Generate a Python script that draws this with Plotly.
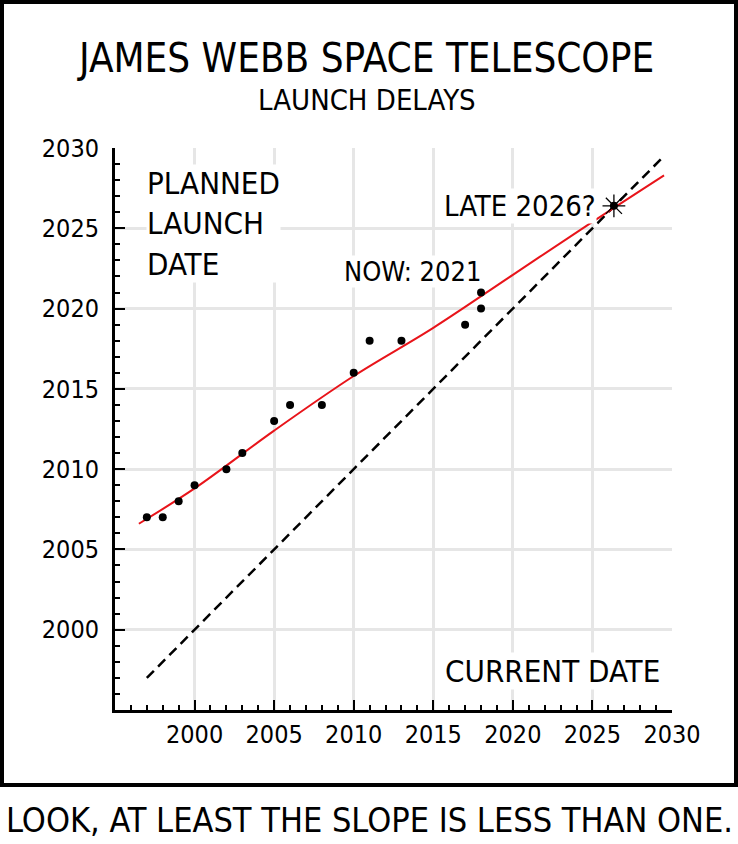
import plotly.graph_objects as go

# planned launch date at each point in time
current_year = [1997, 1998, 1999, 2000, 2002, 2003, 2005, 2006, 2008, 2010,
                2011, 2013, 2017, 2018, 2018]
planned_year = [2007, 2007, 2008, 2009, 2010, 2011, 2013, 2014, 2014, 2016,
                2018, 2018, 2019, 2020, 2021]

# hand-drawn trend line
trend_x = [1996.5, 2000, 2005, 2010, 2015, 2020, 2025, 2029.5]
trend_y = [2006.6, 2008.8, 2012.4, 2015.8, 2018.8, 2022.1, 2025.4, 2028.3]

# slope-one reference line
diag_x = [1997, 2029.5]
diag_y = [1997, 2029.5]

# where they meet
meet_x = [2026.35]
meet_y = [2026.4]

tick_vals = [2000, 2005, 2010, 2015, 2020, 2025, 2030]
tick_text = ["2000", "2005", "2010", "2015", "2020", "2025", "2030"]

FONT = "Humor Sans, xkcd Script, Liberation Sans Narrow, DejaVu Sans Condensed, sans-serif"
W, H = 738, 844
L, R, T, B = 115, 66, 148, 134


def px(x):
    return (x - L) / (W - L - R)


def py(y):
    return (H - B - y) / (H - T - B)


fig = go.Figure()

fig.add_trace(go.Scatter(x=diag_x, y=diag_y, mode="lines",
                         line=dict(color="black", width=2.5, dash="10px,6px")))
fig.add_trace(go.Scatter(x=trend_x, y=trend_y, mode="lines", line_shape="spline",
                         line=dict(color="#e8141a", width=2)))
fig.add_trace(go.Scatter(x=current_year, y=planned_year, mode="markers",
                         marker=dict(color="black", size=8)))
fig.add_trace(go.Scatter(x=meet_x, y=meet_y, mode="markers",
                         marker=dict(symbol="asterisk-open", size=19, color="black",
                                     line=dict(color="black", width=1.3))))
fig.add_trace(go.Scatter(x=meet_x, y=meet_y, mode="markers",
                         marker=dict(color="black", size=8)))

axis = dict(range=[1995, 2030], tickvals=tick_vals, ticktext=tick_text,
            showgrid=True, gridcolor="#e6e6e6", gridwidth=3,
            showline=True, linecolor="black", linewidth=3,
            ticks="inside", ticklen=10, tickwidth=2, tickcolor="black",
            minor=dict(ticks="inside", dtick=1, tick0=1995, ticklen=5,
                       tickwidth=2, tickcolor="black", showgrid=False),
            zeroline=False, fixedrange=True,
            tickfont=dict(family=FONT, size=25, color="black"))

fig.update_layout(
    width=W, height=H, autosize=False,
    margin=dict(l=L, r=R, t=T, b=B),
    paper_bgcolor="white", plot_bgcolor="white",
    showlegend=False,
    xaxis=axis, yaxis=dict(axis, ticklabelstandoff=8),
    font=dict(family=FONT, color="black"),
)

notes = [
    dict(text="PLANNED<br>LAUNCH<br>DATE", x=1996.95, y=2029.0, xanchor="left",
         yanchor="top", align="left", size=31),
    dict(text="CURRENT DATE", x=2029.3, y=1997.4, xanchor="right",
         yanchor="middle", align="right", size=31),
    dict(text="NOW: 2021", x=2013.7, y=2022.3, xanchor="center",
         yanchor="middle", align="center", size=27),
    dict(text="LATE 2026?", x=2025.3, y=2026.4, xanchor="right",
         yanchor="middle", align="right", size=29),
]
for n in notes:
    fig.add_annotation(text=n["text"], x=n["x"], y=n["y"], xref="x", yref="y",
                       xanchor=n["xanchor"], yanchor=n["yanchor"], align=n["align"],
                       showarrow=False, bgcolor="white", borderpad=0,
                       font=dict(family=FONT, size=n["size"], color="black"))

heads = [
    dict(text="JAMES WEBB SPACE TELESCOPE", x=365, y=58, size=40),
    dict(text="LAUNCH DELAYS", x=367, y=100, size=29),
    dict(text="LOOK, AT LEAST THE SLOPE IS LESS THAN ONE.", x=369, y=820, size=34),
]
for h in heads:
    fig.add_annotation(text=h["text"], x=px(h["x"]), y=py(h["y"]),
                       xref="paper", yref="paper", xanchor="center", yanchor="middle",
                       showarrow=False, font=dict(family=FONT, size=h["size"], color="black"))

# comic panel frame
fig.add_shape(type="rect", xref="paper", yref="paper",
              x0=px(2), x1=px(736), y0=py(785), y1=py(2),
              line=dict(color="black", width=4), layer="above")

fig.write_html("out.html", config={"displayModeBar": False},
               post_script="document.body.style.margin = '0';")
